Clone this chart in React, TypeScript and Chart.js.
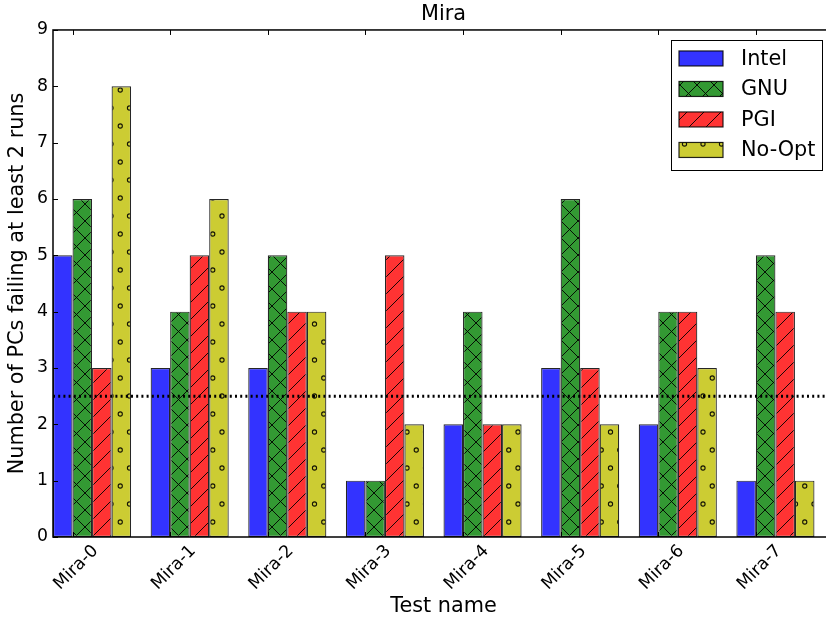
import React, { useEffect, useRef } from "react";
import { Chart, registerables } from "chart.js";

Chart.register(...registerables);

const TITLE = "Mira";
const X_LABEL = "Test name";
const Y_LABEL = "Number of PCs failing at least 2 runs";
const CATEGORIES = ["Mira-0", "Mira-1", "Mira-2", "Mira-3", "Mira-4", "Mira-5", "Mira-6", "Mira-7"];
const SERIES_NAMES = ["Intel", "GNU", "PGI", "No-Opt"];
const INTEL = [5, 3, 3, 1, 2, 3, 2, 1];
const GNU = [6, 4, 5, 1, 4, 6, 4, 5];
const PGI = [3, 5, 4, 5, 2, 3, 4, 4];
const NO_OPT = [8, 6, 4, 2, 2, 2, 3, 1];
const Y_MIN = 0;
const Y_MAX = 9;
const X_MIN = 0;
const X_MAX = 8;
const THRESHOLD = 2.5;

const FONT = "'DejaVu Sans', sans-serif";
const COLORS = ["rgb(51,51,255)", "rgb(51,153,51)", "rgb(255,51,51)", "rgb(204,204,51)"];
const HATCHES = ["", "x", "/", "o"];

function makePattern(color: string, hatch: string): CanvasPattern | string {
  if (!hatch) return color;
  const c = document.createElement("canvas");
  const ctx = c.getContext("2d")!;
  if (hatch === "o") {
    const w = 37, h = 36;
    c.width = w; c.height = h;
    ctx.fillStyle = color;
    ctx.fillRect(0, 0, w, h);
    ctx.strokeStyle = "rgba(0,0,0,0.9)";
    ctx.lineWidth = 1.1;
    const pts = [[0, 0], [18.5, 0], [37, 0], [0, 36], [18.5, 36], [37, 36], [9.25, 18], [27.75, 18]];
    for (const [x, y] of pts) {
      ctx.beginPath();
      ctx.arc(x, y, 2.1, 0, Math.PI * 2);
      ctx.stroke();
    }
  } else {
    const T = 17;
    c.width = T; c.height = T;
    ctx.fillStyle = color;
    ctx.fillRect(0, 0, T, T);
    ctx.strokeStyle = "rgba(0,0,0,0.9)";
    ctx.lineWidth = 1;
    ctx.beginPath();
    for (let k = -1; k <= 2; k++) {
      const cc = k * T;
      ctx.moveTo(cc + T + 1, -1);
      ctx.lineTo(cc - 1, T + 1);
    }
    if (hatch === "x") {
      for (let k = -1; k <= 1; k++) {
        const cc = k * T;
        ctx.moveTo(cc - 1, -1);
        ctx.lineTo(cc + T + 1, T + 1);
      }
    }
    ctx.stroke();
  }
  return ctx.createPattern(c, "repeat")!;
}

const framePlugin = {
  id: "frame",
  afterDatasetsDraw(chart: any) {
    const { ctx, chartArea } = chart;
    const { left, right, top, bottom } = chartArea;
    const xs = chart.scales.x;
    const ys = chart.scales.y;
    ctx.save();
    ctx.strokeStyle = "#000";
    ctx.lineWidth = 1;
    ctx.beginPath();
    for (const v of xs.ticks.map((t: any) => t.value)) {
      const px = Math.round(xs.getPixelForValue(v)) + 0.5;
      ctx.moveTo(px, bottom);
      ctx.lineTo(px, bottom - 5);
      ctx.moveTo(px, top);
      ctx.lineTo(px, top + 5);
    }
    for (const t of ys.ticks) {
      const py = Math.round(ys.getPixelForValue(t.value)) + 0.5;
      ctx.moveTo(left, py);
      ctx.lineTo(left + 5, py);
      ctx.moveTo(right, py);
      ctx.lineTo(right - 5, py);
    }
    ctx.stroke();
    ctx.lineWidth = 1.5;
    ctx.strokeRect(left, top, right - left, bottom - top);
    ctx.restore();
  },
  afterDraw(chart: any) {
    const { ctx, chartArea } = chart;
    const boxRight = chartArea.right - 12;
    const boxTop = chartArea.top + 10;
    const boxW = 151;
    const boxH = 130;
    const boxLeft = boxRight - boxW;
    ctx.save();
    ctx.fillStyle = "#fff";
    ctx.fillRect(boxLeft, boxTop, boxW, boxH);
    ctx.strokeStyle = "#000";
    ctx.lineWidth = 1;
    ctx.strokeRect(Math.round(boxLeft) + 0.5, Math.round(boxTop) + 0.5, boxW, boxH);
    const items = chart.data.datasets.filter((d: any) => d.type !== "line");
    items.forEach((d: any, i: number) => {
      const cy = boxTop + 18.5 + i * 30.5;
      const sx = boxLeft + 8;
      ctx.fillStyle = d.backgroundColor;
      ctx.fillRect(sx, cy - 7.5, 44, 15);
      ctx.strokeStyle = "rgba(0,0,0,0.85)";
      ctx.lineWidth = 1.2;
      ctx.strokeRect(sx, cy - 7.5, 44, 15);
      ctx.fillStyle = "#000";
      ctx.font = `20.8px ${FONT}`;
      ctx.textBaseline = "middle";
      ctx.textAlign = "left";
      ctx.fillText(d.label, boxLeft + 70, cy + 1);
    });
    ctx.restore();
  },
};

export default function App() {
  const ref = useRef<HTMLCanvasElement | null>(null);
  useEffect(() => {
    document.body.style.margin = "0";
    const canvas = ref.current!;
    const seriesValues = [INTEL, GNU, PGI, NO_OPT];
    const barSets = seriesValues.map((vals, s) => ({
      type: "bar" as const,
      label: SERIES_NAMES[s],
      data: vals.map((v, i) => ({ x: i + 0.4, y: v })),
      backgroundColor: makePattern(COLORS[s], HATCHES[s]),
      borderColor: "rgba(0,0,0,0.85)",
      borderWidth: 1.2,
      borderSkipped: false,
      categoryPercentage: 0.8,
      barPercentage: 1.0,
      order: 1,
    }));
    const lineSet = {
      type: "line" as const,
      label: "threshold",
      data: [{ x: X_MIN, y: THRESHOLD }, { x: X_MAX, y: THRESHOLD }],
      borderColor: "#000",
      borderWidth: 3,
      borderDash: [2, 3.2],
      borderCapStyle: "butt",
      pointRadius: 0,
      fill: false,
      order: -1,
    };
    const chart = new Chart(canvas, {
      type: "bar",
      data: { datasets: [...barSets, lineSet] as any },
      options: {
        responsive: false,
        animation: false,
        events: [],
        layout: { padding: { left: 0, right: 6, top: 0, bottom: 0 } },
        plugins: {
          legend: { display: false },
          tooltip: { enabled: false },
          title: {
            display: true,
            text: TITLE,
            fullSize: false,
            color: "#000",
            font: { family: FONT, size: 20.8, weight: "normal" },
            padding: { top: 2.5, bottom: 2.5 },
          },
        },
        scales: {
          x: {
            type: "linear",
            min: X_MIN,
            max: X_MAX,
            offset: false,
            grid: { display: false, drawTicks: false },
            border: { display: false },
            afterBuildTicks: (s: any) => {
              s.ticks = CATEGORIES.map((_, i) => ({ value: i + 0.2 }));
            },
            afterFit: (s: any) => {
              s.height = 82;
            },
            ticks: {
              autoSkip: false,
              minRotation: 45,
              maxRotation: 45,
              padding: 4,
              labelOffset: 23,
              color: "#000",
              font: { family: FONT, size: 17.3 },
              callback: (_v: any, i: number) => CATEGORIES[i],
            },
            title: {
              display: true,
              text: X_LABEL,
              color: "#000",
              font: { family: FONT, size: 20.8 },
              padding: { top: 0, bottom: 0 },
            },
          },
          y: {
            min: Y_MIN,
            max: Y_MAX,
            grid: { display: false, drawTicks: false },
            border: { display: false },
            afterFit: (s: any) => {
              s.width = 53;
            },
            ticks: {
              stepSize: 1,
              padding: 5,
              color: "#000",
              font: { family: FONT, size: 17.3 },
            },
            title: {
              display: true,
              text: Y_LABEL,
              color: "#000",
              font: { family: FONT, size: 20.8 },
              padding: { top: 5, bottom: 0 },
            },
          },
        },
      } as any,
      plugins: [framePlugin],
    });
    return () => chart.destroy();
  }, []);
  return (
    <div style={{ width: 826, height: 619, overflow: "hidden", position: "relative" }}>
      <canvas ref={ref} width={840} height={619} style={{ display: "block" }} />
    </div>
  );
}
